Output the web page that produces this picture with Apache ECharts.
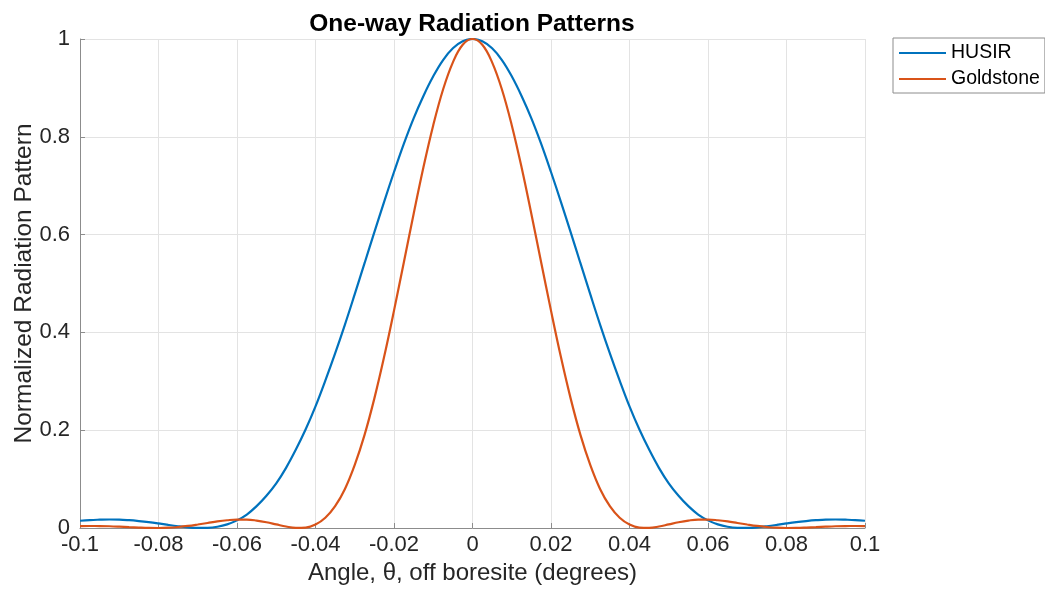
<!DOCTYPE html>
<html>
<head>
<meta charset="utf-8">
<script src="https://cdn.jsdelivr.net/npm/echarts@6/dist/echarts.min.js"></script>
<style>
html,body{margin:0;padding:0;background:#fff;}
#chart{width:1045px;height:595px;}
</style>
</head>
<body>
<div id="chart"></div>
<script>
// Angle off boresite (degrees)
const angles = [
  -0.1, -0.0975, -0.095, -0.0925, -0.09, -0.0875, -0.085, -0.0825, -0.08, -0.0775,
  -0.075, -0.0725, -0.07, -0.0675, -0.065, -0.0625, -0.06, -0.0575, -0.055, -0.0525,
  -0.05, -0.0475, -0.045, -0.0425, -0.04, -0.0375, -0.035, -0.0325, -0.03, -0.0275,
  -0.025, -0.0225, -0.02, -0.0175, -0.015, -0.0125, -0.01, -0.0075, -0.005, -0.0025,
  0,
  0.0025, 0.005, 0.0075, 0.01, 0.0125, 0.015, 0.0175, 0.02, 0.0225, 0.025,
  0.0275, 0.03, 0.0325, 0.035, 0.0375, 0.04, 0.0425, 0.045, 0.0475, 0.05,
  0.0525, 0.055, 0.0575, 0.06, 0.0625, 0.065, 0.0675, 0.07, 0.0725, 0.075,
  0.0775, 0.08, 0.0825, 0.085, 0.0875, 0.09, 0.0925, 0.095, 0.0975, 0.1
];
const husir = [
  0.0148, 0.0163, 0.0170, 0.0174, 0.0172, 0.0160, 0.0142, 0.0120, 0.0093, 0.0063,
  0.0036, 0.0014, 0.0001, 0.0004, 0.0026, 0.0075, 0.0156, 0.0275, 0.0447, 0.0659,
  0.0913, 0.1230, 0.1603, 0.2018, 0.2487, 0.3014, 0.3570, 0.4160, 0.4782, 0.5415,
  0.6049, 0.6676, 0.7280, 0.7856, 0.8378, 0.8836, 0.9238, 0.9570, 0.9810, 0.9952,
  1,
  0.9952, 0.9810, 0.9570, 0.9238, 0.8836, 0.8378, 0.7856, 0.7280, 0.6676, 0.6049,
  0.5415, 0.4782, 0.4160, 0.3570, 0.3014, 0.2487, 0.2018, 0.1603, 0.1230, 0.0913,
  0.0659, 0.0447, 0.0275, 0.0156, 0.0075, 0.0026, 0.0004, 0.0001, 0.0014, 0.0036,
  0.0063, 0.0093, 0.0120, 0.0142, 0.0160, 0.0172, 0.0174, 0.0170, 0.0163, 0.0148
];
const goldstone = [
  0.0038, 0.0041, 0.0040, 0.0036, 0.0028, 0.0018, 0.0009, 0.0002, 0.0000, 0.0006,
  0.0020, 0.0042, 0.0071, 0.0103, 0.0135, 0.0159, 0.0173, 0.0172, 0.0152, 0.0118,
  0.0074, 0.0030, 0.0003, 0.0009, 0.0070, 0.0209, 0.0446, 0.0798, 0.1290, 0.1904,
  0.2651, 0.3506, 0.4445, 0.5431, 0.6422, 0.7376, 0.8237, 0.8967, 0.9522, 0.9882,
  1,
  0.9882, 0.9522, 0.8967, 0.8237, 0.7376, 0.6422, 0.5431, 0.4445, 0.3506, 0.2651,
  0.1904, 0.1290, 0.0798, 0.0446, 0.0209, 0.0070, 0.0009, 0.0003, 0.0030, 0.0074,
  0.0118, 0.0152, 0.0172, 0.0173, 0.0159, 0.0135, 0.0103, 0.0071, 0.0042, 0.0020,
  0.0006, 0.0000, 0.0002, 0.0009, 0.0018, 0.0028, 0.0036, 0.0040, 0.0041, 0.0038
];
const seriesNames = ['HUSIR', 'Goldstone'];
const seriesColors = ['#0072BD', '#D95319'];
const titleText = 'One-way Radiation Patterns';
const xAxisTitle = 'Angle, \u03b8, off boresite (degrees)';
const yAxisTitle = 'Normalized Radiation Pattern';

const font = '"Liberation Sans", Arial, Helvetica, sans-serif';
const chart = echarts.init(document.getElementById('chart'));
const toPairs = ys => angles.map((a, i) => [a, ys[i]]);
const axisGray = '#8c8c8c';
const gridGray = '#e3e3e3';

chart.setOption({
  animation: false,
  backgroundColor: '#fff',
  title: {
    text: titleText,
    left: 472,
    top: 12,
    textAlign: 'center',
    padding: 0,
    textStyle: { fontFamily: font, fontSize: 24.5, fontWeight: 'bold', color: '#000' }
  },
  legend: {
    data: seriesNames,
    orient: 'vertical',
    left: 893,
    top: 38,
    padding: [5, 5, 4, 6],
    icon: 'rect',
    itemWidth: 47,
    itemHeight: 2,
    itemGap: 6,
    borderColor: '#8c8c8c',
    borderWidth: 1,
    backgroundColor: '#fff',
    textStyle: { fontFamily: font, fontSize: 19.5, color: '#000' }
  },
  grid: { left: 80, right: 180, top: 39, bottom: 67, containLabel: false, outerBoundsMode: 'none' },
  xAxis: {
    type: 'value',
    min: -0.1,
    max: 0.1,
    interval: 0.02,
    name: xAxisTitle,
    nameLocation: 'middle',
    nameGap: 33,
    nameMoveOverlap: false,
    nameTextStyle: { fontFamily: font, fontSize: 24, color: '#262626' },
    axisLine: { show: true, onZero: false, lineStyle: { color: axisGray, width: 1 } },
    axisTick: { show: true, inside: true, length: 5, lineStyle: { color: axisGray } },
    axisLabel: {
      fontFamily: font, fontSize: 22, color: '#262626', margin: 6,
      formatter: v => String(+v.toFixed(2))
    },
    splitLine: { show: true, lineStyle: { color: gridGray, width: 1 } }
  },
  yAxis: {
    type: 'value',
    min: 0,
    max: 1,
    interval: 0.2,
    name: yAxisTitle,
    nameLocation: 'middle',
    nameGap: 43,
    nameMoveOverlap: false,
    nameTextStyle: { fontFamily: font, fontSize: 24.5, color: '#262626' },
    axisLine: { show: true, onZero: false, lineStyle: { color: axisGray, width: 1 } },
    axisTick: { show: true, inside: true, length: 5, lineStyle: { color: axisGray } },
    axisLabel: {
      fontFamily: font, fontSize: 22, color: '#262626', margin: 10,
      formatter: v => String(+v.toFixed(1))
    },
    splitLine: { show: true, lineStyle: { color: gridGray, width: 1 } }
  },
  series: [
    {
      name: seriesNames[0], type: 'line', data: toPairs(husir),
      symbol: 'none', smooth: 0.4, clip: true,
      lineStyle: { color: seriesColors[0], width: 2.2 },
      itemStyle: { color: seriesColors[0] }
    },
    {
      name: seriesNames[1], type: 'line', data: toPairs(goldstone),
      symbol: 'none', smooth: 0.4, clip: true,
      lineStyle: { color: seriesColors[1], width: 2.2 },
      itemStyle: { color: seriesColors[1] }
    }
  ]
});
</script>
</body>
</html>
